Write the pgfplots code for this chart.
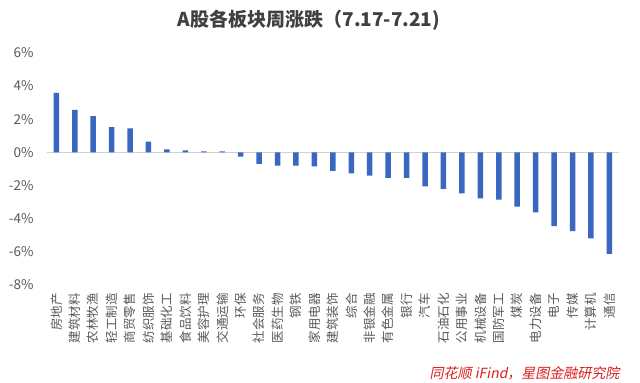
\documentclass[border=0pt]{standalone}
\usepackage{fontspec}
\usepackage{pgfplots}
\usepackage{pgfplotstable}
\pgfplotsset{compat=1.18}
\setmainfont{Noto Sans CJK SC}
\newfontfamily\srcfont[FakeSlant=0.2]{Noto Sans CJK SC}
\definecolor{barblue}{HTML}{3A67C0}
\definecolor{tickgray}{HTML}{595959}
\definecolor{titlegray}{HTML}{404040}
\definecolor{srcred}{HTML}{DC1E1E}
\pgfplotstableread{
x y
0 3.58
1 2.55
2 2.18
3 1.52
4 1.44
5 0.64
6 0.18
7 0.12
8 0.06
9 0.06
10 -0.26
11 -0.70
12 -0.80
13 -0.80
14 -0.85
15 -1.12
16 -1.27
17 -1.41
18 -1.54
19 -1.54
20 -2.05
21 -2.20
22 -2.48
23 -2.78
24 -2.86
25 -3.28
26 -3.63
27 -4.45
28 -4.75
29 -5.19
30 -6.12
}\data
\begin{document}
\begin{tikzpicture}
\path[use as bounding box] (0,0) rectangle (640bp,383bp);
\fill[white] (0,0) rectangle (640bp,383bp);
\begin{axis}[
  at={(47.1bp,98bp)}, anchor=south west,
  scale only axis, width=571.5bp, height=232.3bp,
  xmin=-0.5, xmax=30.5, ymin=-8, ymax=6,
  axis line style={draw=none},
  major tick length=0,
  ytick={-8,-6,...,6},
  yticklabel={\pgfmathprintnumber{\tick}\%},
  /pgf/number format/assume math mode=true,
  yticklabel style={font=\fontsize{13.5bp}{15bp}\selectfont, text=tickgray, anchor=east, xshift=-10bp},
  extra y ticks={0},
  extra y tick labels={},
  extra y tick style={grid=major, major grid style={draw=gray!35, line width=0.8bp}},
  xtick={0,...,30},
  xticklabels={房地产,建筑材料,农林牧渔,轻工制造,商贸零售,纺织服饰,基础化工,食品饮料,美容护理,交通运输,环保,社会服务,医药生物,钢铁,家用电器,建筑装饰,综合,非银金融,有色金属,银行,汽车,石油石化,公用事业,机械设备,国防军工,煤炭,电力设备,电子,传媒,计算机,通信},
  xticklabel style={font=\fontsize{12.5bp}{14bp}\selectfont, text=tickgray, rotate=90, anchor=east, inner xsep=8bp},
  ybar, bar width=5.5bp,
  clip=false,
]
\addplot[fill=barblue, draw=none] table[x=x,y=y] {\data};
\end{axis}
\node[font=\bfseries\fontsize{19bp}{22bp}\selectfont, text=titlegray] at (309bp,363bp) {A股各板块周涨跌（7.17-7.21)};
\node[anchor=east, text=srcred, font=\srcfont\fontsize{14bp}{16bp}\selectfont] at (623bp,10bp) {同花顺 iFind，星图金融研究院};
\end{tikzpicture}
\end{document}
